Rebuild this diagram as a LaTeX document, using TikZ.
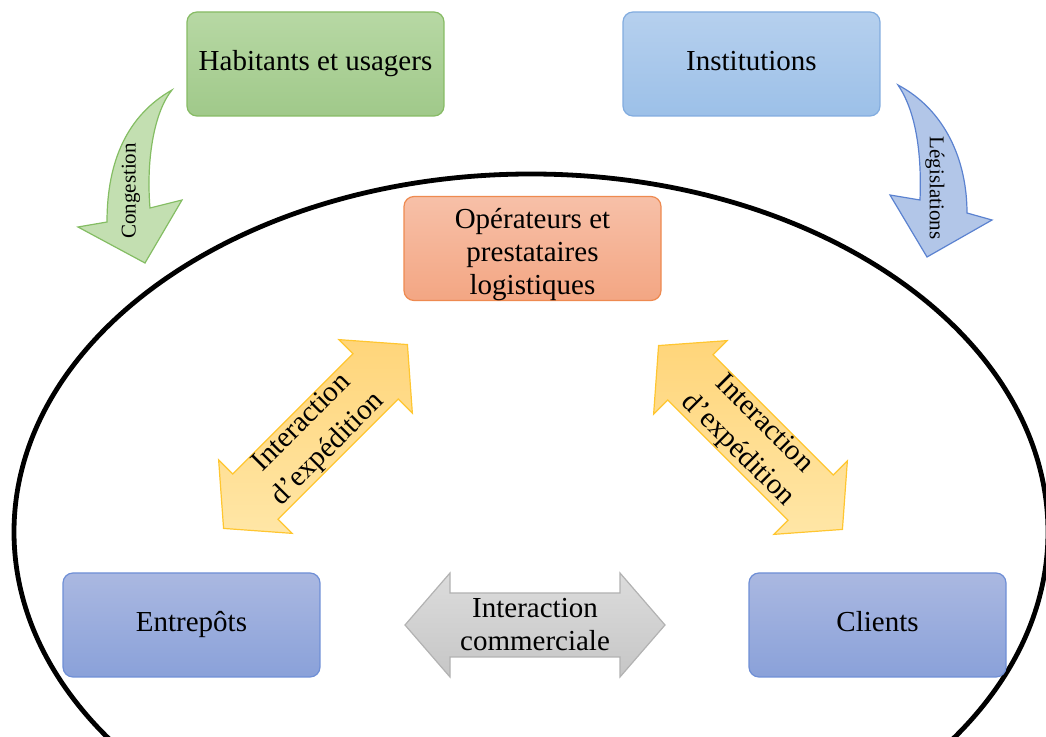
\documentclass[tikz,border=0pt]{standalone}
\usepackage{fontspec}
\setmainfont{Liberation Serif}
\definecolor{habtop}{HTML}{B7D8A4}
\definecolor{habbot}{HTML}{A0C98A}
\definecolor{habline}{HTML}{86BB64}
\definecolor{insttop}{HTML}{B6D0EE}
\definecolor{instbot}{HTML}{9CC0E8}
\definecolor{instline}{HTML}{82ACDF}
\definecolor{optop}{HTML}{F7C0A8}
\definecolor{opbot}{HTML}{F3A683}
\definecolor{opline}{HTML}{EE8A50}
\definecolor{sitetop}{HTML}{AAB8E1}
\definecolor{sitebot}{HTML}{8AA1D9}
\definecolor{siteline}{HTML}{6F8FD6}
\definecolor{yeltop}{HTML}{FFD57A}
\definecolor{yelbot}{HTML}{FFE6A6}
\definecolor{yelline}{HTML}{FFC630}
\definecolor{graytop}{HTML}{DCDCDC}
\definecolor{graybot}{HTML}{C6C6C6}
\definecolor{grayline}{HTML}{B2B2B2}
\definecolor{congfill}{HTML}{C3DFB1}
\definecolor{congline}{HTML}{84BD63}
\definecolor{legfill}{HTML}{B2C6E8}
\definecolor{legline}{HTML}{5B82D0}
\begin{document}
\begin{tikzpicture}[x=0.5pt,y=-0.5pt,
  every node/.style={font=\fontsize{14.5}{16.5}\selectfont,align=center},
  box/.style={draw,rounded corners=5pt,line width=0.6pt,minimum width=128.5pt,minimum height=52pt,
    text height=0.88em,text depth=0.22em},
  yarrow/.style={draw=yelline,line width=0.6pt,top color=yeltop,bottom color=yelbot},
  garrow/.style={draw=grayline,line width=0.6pt,top color=graytop,bottom color=graybot}]
\clip (0,0) rectangle (1046,737);
% logistics area
\draw[line width=2.4pt] (531,532) ellipse [x radius=517,y radius=358];
\node[box,draw=habline,top color=habtop,bottom color=habbot] (hab) at (315.5,64) {Habitants et usagers};
\node[box,draw=instline,top color=insttop,bottom color=instbot] (inst) at (751.5,64) {Institutions};
\node[box,draw=opline,top color=optop,bottom color=opbot] (ops) at (532.5,248.5) {};
\node (opstxt) at ([yshift=-3pt]ops.center) {Opérateurs et\\prestataires\\logistiques};
\node[box,draw=siteline,top color=sitetop,bottom color=sitebot] (entr) at (191.5,625) {Entrepôts};
\node[box,draw=siteline,top color=sitetop,bottom color=sitebot] (cli) at (877.5,625) {Clients};
% curved arrows from the outside actors
\draw[draw=congline,fill=congfill,line width=0.6pt] (172,90) .. controls (128,115) and (107,160) .. (107,222)
  -- (78,227) -- (145,263) -- (182,200) -- (150,208) .. controls (146,160) and (154,112) .. (172,90) -- cycle;
\node[font=\fontsize{10.5}{12}\selectfont,rotate=90] (cong) at (131,191) {Congestion};
\draw[draw=legline,fill=legfill,line width=0.6pt] (898,85) .. controls (945,110) and (967,160) .. (967,213)
  -- (992,220) -- (927,257) -- (890,195) -- (920,200) .. controls (922,150) and (915,110) .. (898,85) -- cycle;
\node[font=\fontsize{10.5}{12}\selectfont,rotate=-90] (legi) at (935,188) {Législations};
% double arrows between the partners
\foreach \nm/\cx/\cy/\ang/\sty/\lh/\txt in {expl/315.5/436.5/45/yarrow/18.5/{Interaction\\d’expédition},
    expr/750.5/437.5/-45/yarrow/18.5/{Interaction\\d’expédition},
    comm/535/625/0/garrow/16.5/{Interaction\\commerciale}} {
  \begin{scope}[shift={(\cx,\cy)},rotate=\ang]
  \draw[\sty] (-130,0) -- (-85,-52) -- (-85,-32) -- (85,-32) -- (85,-52) -- (130,0)
    -- (85,52) -- (85,32) -- (-85,32) -- (-85,52) -- cycle;
  \node[transform shape,font=\fontsize{14.5}{\lh}\selectfont] (\nm) at (0,0) {\txt};
  \end{scope}
}
\end{tikzpicture}
\end{document}
